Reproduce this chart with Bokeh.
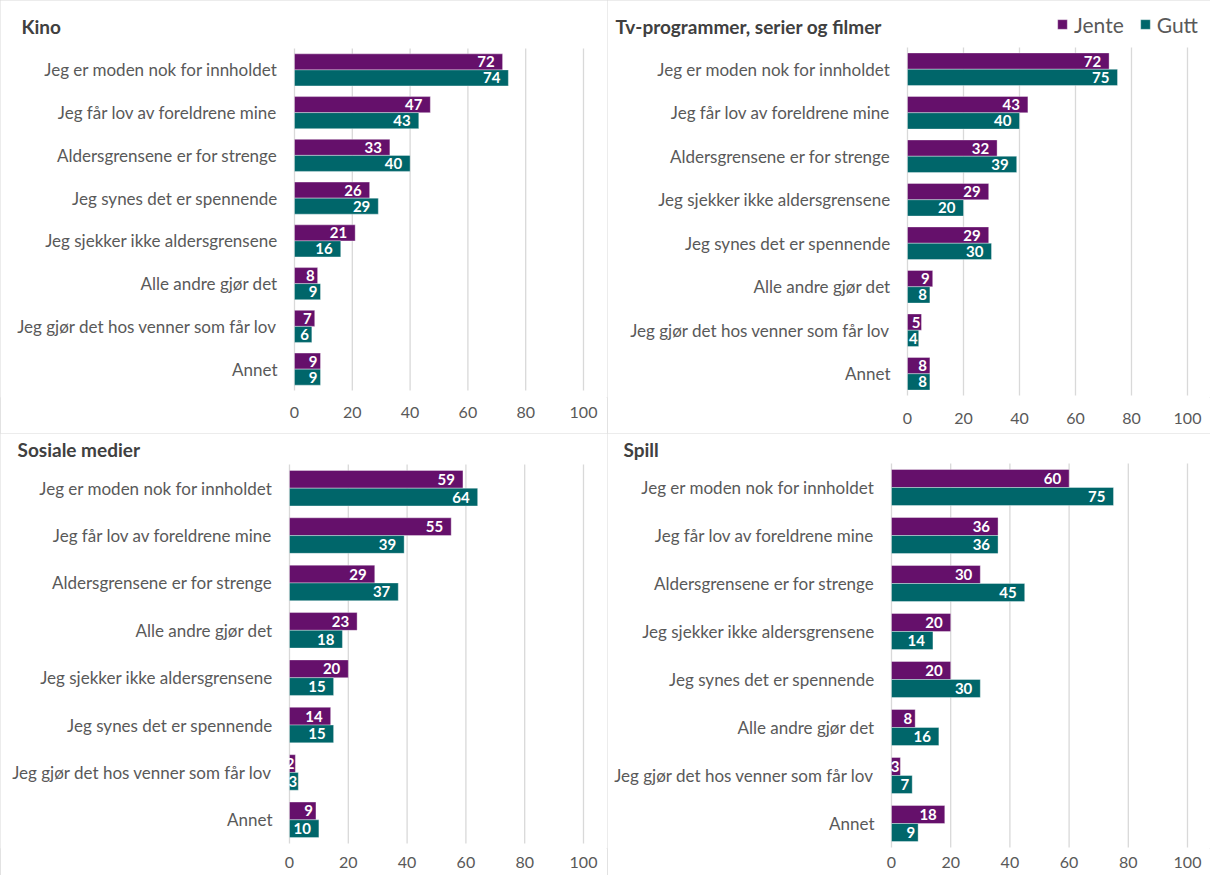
from bokeh.plotting import figure
from bokeh.models import (Range1d, Legend, LegendItem, Label,
                          ColumnDataSource, FixedTicker)
from bokeh.layouts import row, column
from bokeh.core.properties import value
from bokeh.embed import file_html
from bokeh.resources import INLINE

# ---------------- data ----------------
series = ["Jente", "Gutt"]
xticks = [0, 20, 40, 60, 80, 100]

kino_title = "Kino"
kino_cats = ["Jeg er moden nok for innholdet", "Jeg får lov av foreldrene mine",
             "Aldersgrensene er for strenge", "Jeg synes det er spennende",
             "Jeg sjekker ikke aldersgrensene", "Alle andre gjør det",
             "Jeg gjør det hos venner som får lov", "Annet"]
kino_jente = [72, 47, 33, 26, 21, 8, 7, 9]
kino_gutt = [74, 43, 40, 29, 16, 9, 6, 9]

tv_title = "Tv-programmer, serier og filmer"
tv_cats = ["Jeg er moden nok for innholdet", "Jeg får lov av foreldrene mine",
           "Aldersgrensene er for strenge", "Jeg sjekker ikke aldersgrensene",
           "Jeg synes det er spennende", "Alle andre gjør det",
           "Jeg gjør det hos venner som får lov", "Annet"]
tv_jente = [72, 43, 32, 29, 29, 9, 5, 8]
tv_gutt = [75, 40, 39, 20, 30, 8, 4, 8]

sos_title = "Sosiale  medier"
sos_cats = ["Jeg er moden nok for innholdet", "Jeg får lov av foreldrene mine",
            "Aldersgrensene er for strenge", "Alle andre gjør det",
            "Jeg sjekker ikke aldersgrensene", "Jeg synes det er spennende",
            "Jeg gjør det hos venner som får lov", "Annet"]
sos_jente = [59, 55, 29, 23, 20, 14, 2, 9]
sos_gutt = [64, 39, 37, 18, 15, 15, 3, 10]

spill_title = "Spill"
spill_cats = ["Jeg er moden nok for innholdet", "Jeg får lov av foreldrene mine",
              "Aldersgrensene er for strenge", "Jeg sjekker ikke aldersgrensene",
              "Jeg synes det er spennende", "Alle andre gjør det",
              "Jeg gjør det hos venner som får lov", "Annet"]
spill_jente = [60, 36, 30, 20, 20, 8, 3, 18]
spill_gutt = [75, 36, 45, 14, 30, 16, 7, 9]

# ---------------- style ----------------
PURPLE = "#65106b"
TEAL = "#00666a"
FONT = "Lato"
LABEL_COLOR = "#595959"
TITLE_COLOR = "#404040"
GRID = "#d9d9d9"
BAR_H = 0.375
OFF = 0.1875


def label_offset(v):
    # pixel offset of the inside-end value label (style only)
    return -8 if v >= 10 else (-3 if v >= 6 else -1)


def make_panel(title, cats, jente, gutt, origin, size, zero_px, hundred_px,
               band, title_xy, mb, tick_standoff, legend_pos=None):
    ox, oy = origin
    w, h = size
    n = len(cats)
    frame_h = h - mb
    # x range so that 0 and 100 land on the wanted pixels (frame = full width)
    ppx = (hundred_px - zero_px) / 100.0
    x0 = -(zero_px - ox) / ppx
    x1 = x0 + w / ppx
    # y range: category band occupies band[0]..band[1]
    ppy = (band[1] - band[0]) / n
    y1 = (n - 0.5) + (band[0] - oy) / ppy
    y0 = -0.5 - (oy + frame_h - band[1]) / ppy

    ypos = [n - 1 - i for i in range(n)]
    src = ColumnDataSource(dict(
        cat=cats, y=ypos,
        yj=[v + OFF for v in ypos], yg=[v - OFF for v in ypos],
        jente=jente, gutt=gutt,
        jl=[str(v) for v in jente], gl=[str(v) for v in gutt],
        jo=[label_offset(v) for v in jente], go=[label_offset(v) for v in gutt]))
    grid_src = ColumnDataSource(dict(x=xticks, y0=[-0.5] * len(xticks),
                                     y1=[n - 0.5] * len(xticks)))

    p = figure(width=w, height=h, x_range=Range1d(x0, x1),
               y_range=Range1d(y0, y1),
               output_backend="svg", toolbar_location=None,
               min_border_left=0, min_border_right=0,
               min_border_top=0, min_border_bottom=mb)
    p.styles = {"outline": "1px solid #d9d9d9", "outline-offset": "-1px"}
    p.outline_line_color = None
    p.background_fill_color = "white"
    p.border_fill_color = "white"
    p.xgrid.grid_line_color = None
    p.ygrid.grid_line_color = None
    p.yaxis.visible = False

    # vertical gridlines over the category band
    p.segment(x0="x", x1="x", y0="y0", y1="y1", line_color=GRID,
              line_width=1.3, source=grid_src)

    rj = p.hbar(y="yj", left=0, right="jente", height=BAR_H, fill_color=PURPLE,
                line_color="white", line_alpha=0.6, line_width=0.6, source=src)
    rg = p.hbar(y="yg", left=0, right="gutt", height=BAR_H, fill_color=TEAL,
                line_color="white", line_alpha=0.6, line_width=0.6, source=src)
    for col, yy, txt, off in (("jente", "yj", "jl", "jo"), ("gutt", "yg", "gl", "go")):
        p.text(x=col, y=yy, text=txt, x_offset=off,
               text_align="right", text_baseline="middle",
               text_color="white", text_font=value(FONT),
               text_font_style="bold", text_font_size="15px", source=src)

    # category labels
    p.text(x=0, y="y", text="cat", x_offset=-17, text_align="right",
           text_baseline="middle", text_color=LABEL_COLOR,
           text_font=value(FONT), text_font_size="17px", source=src)

    p.xaxis.ticker = FixedTicker(ticks=xticks)
    p.xaxis.axis_line_color = None
    p.xaxis.major_tick_line_color = None
    p.xaxis.minor_tick_line_color = None
    p.xaxis.major_label_standoff = tick_standoff
    p.xaxis.major_label_text_font = FONT
    p.xaxis.major_label_text_font_size = "16px"
    p.xaxis.major_label_text_color = LABEL_COLOR

    # panel title (screen units measured from the frame's bottom-left)
    p.add_layout(Label(x=title_xy[0] - ox, y=frame_h - (title_xy[1] - oy),
                       x_units="screen", y_units="screen", text=title,
                       text_font=FONT, text_font_style="bold",
                       text_font_size="19px", text_color=TITLE_COLOR,
                       text_baseline="middle", text_align="left"))

    if legend_pos is not None:
        lg = Legend(items=[LegendItem(label=series[0], renderers=[rj]),
                           LegendItem(label=series[1], renderers=[rg])],
                    orientation="horizontal",
                    location=(legend_pos[0] - ox, frame_h - (legend_pos[1] - oy)),
                    border_line_color=None, background_fill_alpha=0,
                    padding=0, margin=0, spacing=15, label_standoff=6,
                    glyph_width=12, glyph_height=12,
                    label_text_font=FONT, label_text_font_size="21px",
                    label_text_color=LABEL_COLOR)
        p.add_layout(lg)
    return p


p1 = make_panel(kino_title, kino_cats, kino_jente, kino_gutt,
                (0, 0), (607, 433), 294, 583, (48, 390), (21, 26), 36, 3)
p2 = make_panel(tv_title, tv_cats, tv_jente, tv_gutt,
                (607, 0), (603, 433), 907, 1187, (47, 395), (615, 26), 36, 9,
                legend_pos=(1056, 36.5))
p3 = make_panel(sos_title, sos_cats, sos_jente, sos_gutt,
                (0, 433), (607, 442), 289, 583, (464, 843), (17, 449), 27, 2)
p4 = make_panel(spill_title, spill_cats, spill_jente, spill_gutt,
                (607, 433), (603, 442), 891, 1187, (463, 847), (623, 449), 27, 2)

layout = column(row(p1, p2), row(p3, p4))

open("out.html", "w").write(file_html(layout, INLINE))
